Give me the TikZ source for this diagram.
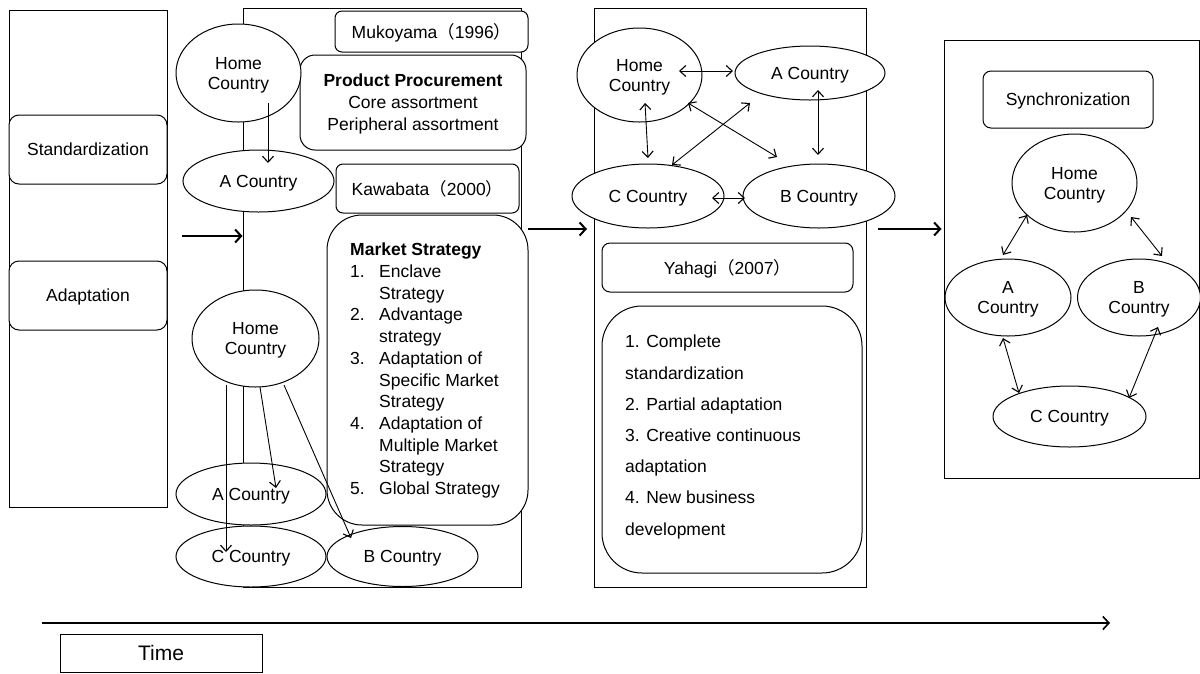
\documentclass[tikz,border=0pt]{standalone}
\usepackage{fontspec}
\setmainfont{Liberation Sans}
\newfontfamily\cjkparen{Noto Sans CJK SC}
\usetikzlibrary{shapes.geometric,arrows.meta}

% full-width parentheses
\newcommand\lpar{{\cjkparen （}}
\newcommand\rpar{{\cjkparen ）}}
\newcommand\itm[1]{\makebox[29pt][l]{#1}}
\newcommand\cont{\hspace*{29pt}}

\begin{document}
\begin{tikzpicture}[x=1pt,y=-1pt,
  every node/.style={font=\fontsize{17.5}{20}\selectfont},
  frame/.style={draw, line width=1pt, fill=white, inner sep=0pt, text depth=0pt},
  panel/.style={frame, rectangle},
  rbox/.style={frame, rounded corners=7pt},
  ctry/.style={frame, ellipse, align=center},
  tip/.tip={Straight Barb[length=6pt,width=11pt,line width=1.1pt]},
  link/.style={line width=0.9pt, -tip},
  dlink/.style={line width=0.9pt, tip-tip},
  bigarrow/.style={line width=2pt, -{Straight Barb[length=6pt,width=13pt]}},
]
\useasboundingbox (0,0) rectangle (1200,673);

% ---------- panel 1: standardization / adaptation ----------
\node[panel, minimum width=158, minimum height=497] (p1) at (88,258.5) {};
\node[rbox, rounded corners=10pt, minimum width=158, minimum height=69] (std) at (88,149.5) {Standardization};
\node[rbox, rounded corners=10pt, minimum width=158, minimum height=69] (adp) at (88,295.5) {Adaptation};

% ---------- panel 2: Mukoyama / Kawabata ----------
\node[panel, minimum width=278, minimum height=579] (p2) at (382,297.5) {};
\node[rbox, minimum width=193, minimum height=41] (muk) at (431.5,31.5) {Mukoyama\lpar1996\rpar};
\node[rbox, rounded corners=15pt, minimum width=226, minimum height=95, align=center,
      font=\fontsize{17.5}{22}\selectfont] (prc) at (413,102.5)
  {\textbf{Product Procurement}\\Core assortment\\Peripheral assortment};
\node[rbox, minimum width=183, minimum height=49] (kaw) at (427.5,188.5) {Kawabata\lpar2000\rpar};
\node[rbox, rounded corners=35pt, minimum width=201, minimum height=310] (mkt) at (427.5,370) {};
\node[anchor=north west, inner sep=0pt, align=left, font=\fontsize{17.5}{21.7}\selectfont] (mktlist) at (350,243)
  {\textbf{Market Strategy}\\
   \itm{1.}Enclave\\
   \cont Strategy\\
   \itm{2.}Advantage\\
   \cont strategy\\
   \itm{3.}Adaptation of\\
   \cont Specific Market\\
   \cont Strategy\\
   \itm{4.}Adaptation of\\
   \cont Multiple Market\\
   \cont Strategy\\
   \itm{5.}Global Strategy};

\node[ctry, minimum width=125, minimum height=98] (h1) at (238.5,73) {Home\\Country};
\node[ctry, minimum width=151, minimum height=62] (a1) at (258.5,181) {A Country};
\node[ctry, minimum width=127, minimum height=97] (h2) at (255.5,338.5) {Home\\Country};
\node[ctry, minimum width=150, minimum height=62] (a2) at (251,494) {A Country};
\node[ctry, minimum width=150, minimum height=61] (c2) at (251,556.5) {C Country};
\node[ctry, minimum width=151, minimum height=60] (b2) at (402.5,556.5) {B Country};

\coordinate (h1a) at (268,103);  \coordinate (a1h) at (268,163);
\coordinate (h2c) at (226,385);  \coordinate (c2h) at (226,552);
\coordinate (h2a) at (260,387);  \coordinate (a2h) at (276,488);
\coordinate (h2b) at (284,385);  \coordinate (b2h) at (351,538);
\draw[link] (h1a) -- (a1h);
\draw[link] (h2c) -- (c2h);
\draw[link] (h2a) -- (a2h);
\draw[link] (h2b) -- (b2h);

% ---------- panel 3: Yahagi ----------
\node[panel, minimum width=272, minimum height=579] (p3) at (730,297.5) {};
\node[ctry, minimum width=125, minimum height=94] (h3) at (639.5,75) {Home\\Country};
\node[ctry, minimum width=150, minimum height=54] (a3) at (810,73) {A Country};
\node[ctry, minimum width=152, minimum height=64] (c3) at (648,196) {C Country};
\node[ctry, minimum width=152, minimum height=64] (b3) at (819,196) {B Country};
\node[rbox, rounded corners=8pt, minimum width=251, minimum height=49] (yah) at (727.5,267.5) {Yahagi\lpar2007\rpar};
\node[rbox, rounded corners=40pt, minimum width=260, minimum height=267] (yls) at (732,439.5) {};
\node[anchor=north west, inner sep=0pt, align=left, font=\fontsize{17.5}{31.2}\selectfont] (yahlist) at (625,335)
  {1. Complete\\
   standardization\\
   2. Partial adaptation\\
   3. Creative continuous\\
   adaptation\\
   4. New business\\
   development};

\coordinate (h3r) at (679,71);   \coordinate (a3l) at (733,71);
\coordinate (h3d) at (645,103);  \coordinate (c3u) at (648,158);
\coordinate (a3d) at (818,90);   \coordinate (b3u) at (818,155);
\coordinate (h3x) at (688,103);  \coordinate (b3x) at (777,157);
\coordinate (a3x) at (750,103);  \coordinate (c3x) at (672,165);
\coordinate (c3r) at (712,198);  \coordinate (b3l) at (745,198);
\draw[dlink] (h3r) -- (a3l);
\draw[dlink] (h3d) -- (c3u);
\draw[dlink] (a3d) -- (b3u);
\draw[dlink] (h3x) -- (b3x);
\draw[dlink] (a3x) -- (c3x);
\draw[dlink] (c3r) -- (b3l);

% ---------- panel 4: synchronization ----------
\node[panel, minimum width=255, minimum height=438] (p4) at (1071.5,259) {};
\node[rbox, rounded corners=8pt, minimum width=170, minimum height=57] (syn) at (1068,99.5) {Synchronization};
\node[ctry, minimum width=125, minimum height=98] (h4) at (1074.5,183) {Home\\Country};
\node[ctry, minimum width=126, minimum height=77] (a4) at (1008,297.5) {A\\Country};
\node[ctry, minimum width=123, minimum height=77] (b4) at (1139,297.5) {B\\Country};
\node[ctry, minimum width=153, minimum height=61] (c4) at (1069.5,416.5) {C Country};

\coordinate (h4a) at (1027,215);  \coordinate (a4h) at (1003,255);
\coordinate (h4b) at (1131,217);  \coordinate (b4h) at (1162,256);
\coordinate (a4c) at (1003,338);  \coordinate (c4a) at (1019,393);
\coordinate (b4c) at (1158,327);  \coordinate (c4b) at (1129,398);
\draw[dlink] (h4a) -- (a4h);
\draw[dlink] (h4b) -- (b4h);
\draw[dlink] (a4c) -- (c4a);
\draw[dlink] (b4c) -- (c4b);

% ---------- transitions between stages ----------
\coordinate (t1) at (182,236);
\coordinate (t2s) at (528,229);  \coordinate (t2e) at (587,229);
\coordinate (t3) at (878,229);
\draw[bigarrow] (t1) -- (t1 -| p2.west);
\draw[bigarrow] (t2s) -- (t2e);
\draw[bigarrow] (t3) -- ([xshift=-2pt]t3 -| p4.west);

% ---------- time axis ----------
\coordinate (ts) at (42,623);
\coordinate (te) at (1110,623);
\draw[line width=1.6pt, -{Straight Barb[length=6pt,width=13pt]}] (ts) -- (te);
\node[draw, line width=1pt, inner sep=0pt, text depth=0pt, minimum width=202, minimum height=38,
      font=\fontsize{21}{24}\selectfont] (time) at (161,653) {Time};

\end{tikzpicture}
\end{document}
